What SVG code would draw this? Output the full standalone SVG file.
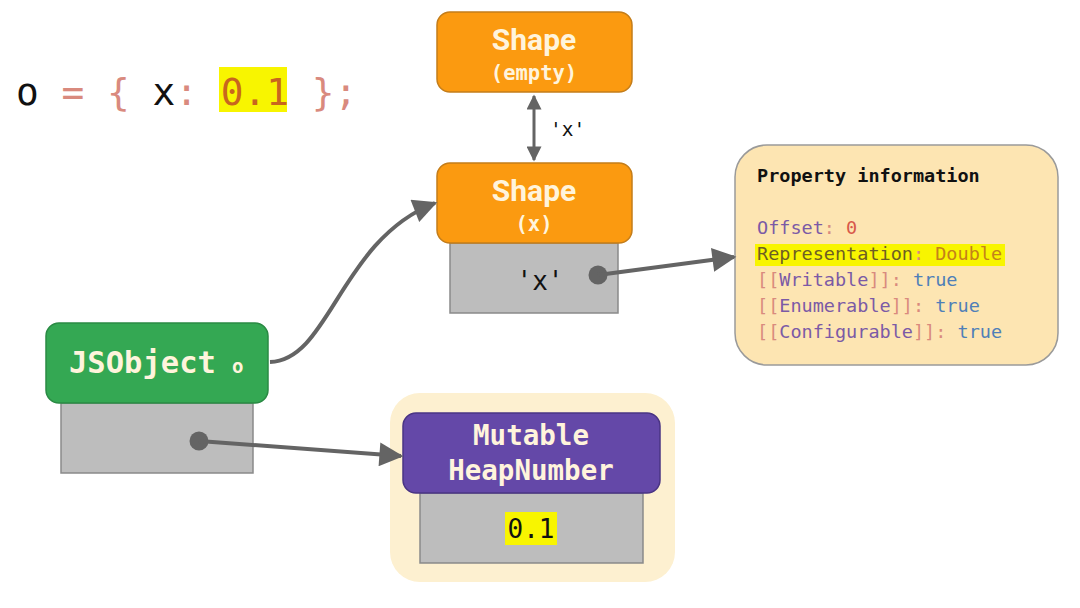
<svg xmlns="http://www.w3.org/2000/svg" width="1080" height="608" viewBox="0 0 1080 608">
<defs>
<style>
.mono{font-family:"DejaVu Sans Mono","Liberation Mono",monospace}
.sans{font-family:Roboto,"Liberation Sans",sans-serif}
.orange{fill:#fb9a10;stroke:#c47d1a;stroke-width:1.5}
.gray{fill:#bdbdbd;stroke:#8a8a8a;stroke-width:1.5}
.title{fill:#fff4dc;font-weight:bold}
.conn{fill:none;stroke:#646464;stroke-width:4}
.dot{fill:#646464}
.pun{fill:#d98a7e}
.pur{fill:#7b5aa6}
.blu{fill:#4f7fb8}
</style>
<marker id="ah" viewBox="0 0 10 10" refX="9" refY="5" markerWidth="8" markerHeight="6" markerUnits="strokeWidth" orient="auto">
<path d="M0,0 L10,5 L0,10 z" fill="#646464"/>
</marker>
<marker id="ah2" viewBox="0 0 10 10" refX="9" refY="5" markerWidth="6" markerHeight="5" markerUnits="strokeWidth" orient="auto-start-reverse">
<path d="M0,0 L10,5 L0,10 z" fill="#646464"/>
</marker>
</defs>
<rect width="1080" height="608" fill="#ffffff"/>

<g id="code">
<rect x="219" y="67" width="68" height="45" fill="#f8f500"/>
<text x="16" y="105" class="mono" font-size="37.8"><tspan fill="#111">o</tspan><tspan class="pun" xml:space="preserve"> = { </tspan><tspan fill="#111">x</tspan><tspan class="pun" xml:space="preserve">: </tspan><tspan fill="#c8661e">0.1</tspan><tspan class="pun" xml:space="preserve"> };</tspan></text>
</g>

<g id="shape-empty">
<rect x="437" y="12" width="195" height="80" rx="13" class="orange"/>
<text x="534" y="50" text-anchor="middle" class="sans title" font-size="30">Shape</text>
<text x="534" y="80" text-anchor="middle" class="mono title" font-size="20.5">(empty)</text>
</g>

<g id="shape-x">
<rect x="450" y="243" width="168" height="70" class="gray"/>
<rect x="437" y="163" width="195" height="80" rx="13" class="orange"/>
<text x="534" y="201" text-anchor="middle" class="sans title" font-size="30">Shape</text>
<text x="534" y="231" text-anchor="middle" class="mono title" font-size="20.5">(x)</text>
<text x="540" y="290" text-anchor="middle" class="mono" font-size="26" fill="#111">'x'</text>
<circle cx="598" cy="275" r="9.5" class="dot"/>
</g>

<g id="property-info">
<rect x="735" y="145" width="323" height="220" rx="32" fill="#fde5b2" stroke="#9a9a9a" stroke-width="1.5"/>
<rect x="755" y="244" width="250" height="22" fill="#f8f500"/>
<text x="757" y="182" class="mono" font-size="18.5" font-weight="bold" fill="#111">Property information</text>
<text x="757" y="234" class="mono" font-size="18.5"><tspan class="pur">Offset</tspan><tspan class="pun">: </tspan><tspan fill="#d8584a">0</tspan></text>
<text x="757" y="260" class="mono" font-size="18.5"><tspan fill="#6e5e24">Representation</tspan><tspan class="pun">: </tspan><tspan fill="#c4821a">Double</tspan></text>
<text x="757" y="286" class="mono" font-size="18.5"><tspan class="pun">[[</tspan><tspan class="pur">Writable</tspan><tspan class="pun">]]: </tspan><tspan class="blu">true</tspan></text>
<text x="757" y="312" class="mono" font-size="18.5"><tspan class="pun">[[</tspan><tspan class="pur">Enumerable</tspan><tspan class="pun">]]: </tspan><tspan class="blu">true</tspan></text>
<text x="757" y="338" class="mono" font-size="18.5"><tspan class="pun">[[</tspan><tspan class="pur">Configurable</tspan><tspan class="pun">]]: </tspan><tspan class="blu">true</tspan></text>
</g>

<g id="jsobject">
<rect x="61" y="403" width="192" height="70" class="gray"/>
<rect x="46" y="323" width="222" height="80" rx="13" fill="#34a853" stroke="#2a8a44" stroke-width="1.5"/>
<text x="69" y="373" class="mono title" font-size="30.5">JSObject</text>
<text x="232" y="373" class="mono title" font-size="19">o</text>
<circle cx="199" cy="441" r="9.5" class="dot"/>
</g>

<g id="heapnumber">
<rect x="390" y="393" width="285" height="189" rx="30" fill="#fdf0d0"/>
<rect x="420" y="493" width="223" height="70" class="gray"/>
<rect x="403" y="413" width="257" height="80" rx="13" fill="#6448a8" stroke="#4a3484" stroke-width="1.5"/>
<text x="531" y="445" text-anchor="middle" class="mono title" font-size="27.5">Mutable</text>
<text x="531" y="480" text-anchor="middle" class="mono title" font-size="27.5">HeapNumber</text>
<rect x="505" y="512" width="52" height="33" fill="#f8f500"/>
<text x="531" y="538" text-anchor="middle" class="mono" font-size="26" fill="#111">0.1</text>
</g>

<g id="connectors">
<line x1="534" y1="96" x2="534" y2="160" stroke="#646464" stroke-width="3" marker-start="url(#ah2)" marker-end="url(#ah2)"/>
<text x="550" y="136" class="mono" font-size="19.5" fill="#111">'x'</text>
<path class="conn" d="M270,362 C330,360 340,240 435,203" marker-end="url(#ah)"/>
<path class="conn" d="M598,275 L734,257" marker-end="url(#ah)"/>
<path class="conn" d="M199,441 L401,456" marker-end="url(#ah)"/>
</g>
</svg>
